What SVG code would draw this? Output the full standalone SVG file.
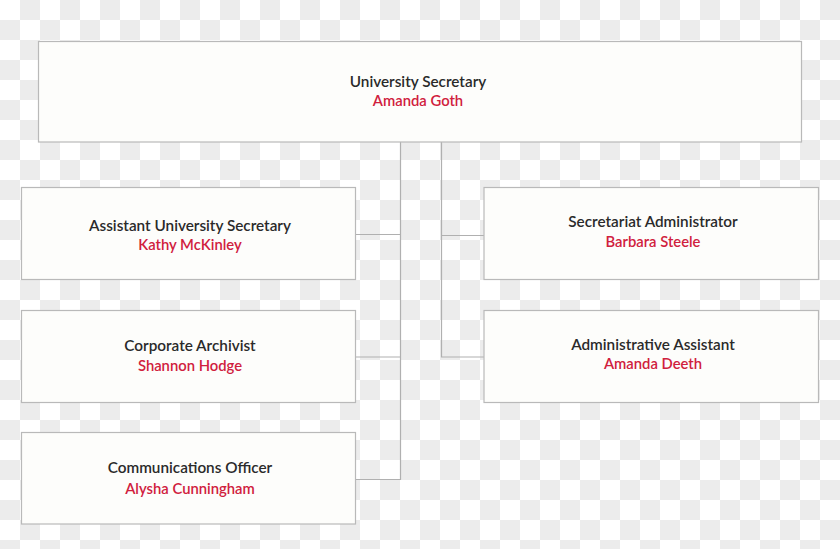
<svg xmlns="http://www.w3.org/2000/svg" width="840" height="549" viewBox="0 0 840 549">
<style>
.box{fill:#fdfdfb;stroke:#b9b9b9;stroke-width:1.2}
.t{font-family:Lato,"Liberation Sans",sans-serif;font-size:15.3px;font-weight:600;text-anchor:middle;fill:#2a2a2a}
.n{font-family:Lato,"Liberation Sans",sans-serif;font-size:14.8px;font-weight:600;text-anchor:middle;fill:#d0203d}
.c{fill:none;stroke:#b0b0b0;stroke-width:1.2}
</style>
<defs>
<pattern id="chk" x="0" y="0" width="40" height="40" patternUnits="userSpaceOnUse">
<rect width="40" height="40" fill="#ffffff"/>
<rect x="20" y="0" width="20" height="20" fill="#ececec"/>
<rect x="0" y="20" width="20" height="20" fill="#ececec"/>
</pattern>
</defs>
<rect width="840" height="549" fill="url(#chk)"/>
<g id="connectors">
<path class="c" d="M400.5 142V479.5H356"/>
<path class="c" d="M356 234.5H400.5M356 357H400.5"/>
<path class="c" d="M441.5 142V357H484M441.5 235.5H484"/>
</g>
<g id="university-secretary">
<rect class="box" x="38.5" y="41.5" width="763" height="100.5"/>
<text class="t" x="418" y="87">University Secretary</text>
<text class="n" x="418" y="106">Amanda Goth</text>
</g>
<g id="assistant-university-secretary">
<rect class="box" x="21.5" y="187.5" width="334" height="92"/>
<text class="t" x="190" y="231">Assistant University Secretary</text>
<text class="n" x="190" y="250">Kathy McKinley</text>
</g>
<g id="corporate-archivist">
<rect class="box" x="21.5" y="310.5" width="334" height="92"/>
<text class="t" x="190" y="351">Corporate Archivist</text>
<text class="n" x="190" y="371">Shannon Hodge</text>
</g>
<g id="communications-officer">
<rect class="box" x="21.5" y="432.5" width="334" height="91.5"/>
<text class="t" x="190" y="473">Communications Officer</text>
<text class="n" x="190" y="494">Alysha Cunningham</text>
</g>
<g id="secretariat-administrator">
<rect class="box" x="484" y="187.5" width="334.5" height="92"/>
<text class="t" x="653" y="227">Secretariat Administrator</text>
<text class="n" x="653" y="247">Barbara Steele</text>
</g>
<g id="administrative-assistant">
<rect class="box" x="484" y="310.5" width="334.5" height="92"/>
<text class="t" x="653" y="350">Administrative Assistant</text>
<text class="n" x="653" y="369">Amanda Deeth</text>
</g>
</svg>
